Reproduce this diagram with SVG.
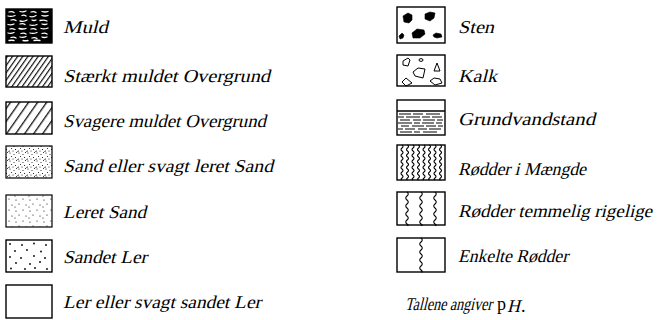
<svg xmlns="http://www.w3.org/2000/svg" width="661" height="320" viewBox="0 0 661 320">
<style>
.box{fill:none;stroke:#000;stroke-width:1.4}
text{font-family:'Liberation Serif','DejaVu Serif',serif;font-style:normal;font-size:18px;fill:#000}
.wave{fill:none;stroke:#000;stroke-width:1.1}
.blob{fill:#000;stroke:#000;stroke-width:0.6}
.kalk{fill:none;stroke:#000;stroke-width:1}
.dash{stroke:#000;stroke-width:1;fill:none}
.wd{stroke:#fff;stroke-width:1.3;fill:none;stroke-linecap:round}
</style>
<defs>
<pattern id="hatchDense" patternUnits="userSpaceOnUse" width="4.2" height="10" patternTransform="rotate(35)">
<line x1="0.6" y1="0" x2="0.6" y2="10" stroke="#000" stroke-width="1.1"/>
</pattern>
<pattern id="hatchSparse" patternUnits="userSpaceOnUse" width="7.4" height="10" patternTransform="rotate(35)">
<line x1="0.7" y1="0" x2="0.7" y2="10" stroke="#000" stroke-width="1.2"/>
</pattern>
<pattern id="dotsDense" patternUnits="userSpaceOnUse" width="9" height="8">
<circle cx="1" cy="1" r="0.55"/><circle cx="5" cy="2.5" r="0.5"/><circle cx="7.5" cy="0.5" r="0.5"/>
<circle cx="2.5" cy="4.5" r="0.5"/><circle cx="6.5" cy="5.5" r="0.55"/><circle cx="0.5" cy="7" r="0.5"/>
<circle cx="4" cy="7" r="0.5"/><circle cx="8.3" cy="7.5" r="0.45"/>
</pattern>
<pattern id="dotsMid" patternUnits="userSpaceOnUse" width="14" height="11">
<circle cx="2" cy="2" r="0.6"/><circle cx="9" cy="1" r="0.6"/><circle cx="5" cy="6" r="0.6"/>
<circle cx="12" cy="7" r="0.6"/><circle cx="1" cy="9" r="0.55"/>
</pattern>
</defs>

<g id="muld">
<rect x="6" y="9" width="46" height="34" fill="#000"/>
<path class="wd" d="M9,12 q3,-1 5,0.5 M20,11.5 q3,1 6,-0.5 M31,12 q3,-1 5,0.5 M42,11.5 q3,1 6,0" />
<path class="wd" d="M8,16 q3,1 7,-0.5 M22,15.5 q2,-1 4,0.5 M30,16.5 q3,1 6,-1 M42,15.5 q3,1 6,0" />
<path class="wd" d="M11,20 q3,-1 5,0.5 M20,21 q4,1 7,-1 M32,20 q2,1 4,0 M40,20.5 q4,-1 7,0.5" />
<path class="wd" d="M8,24.5 q3,1 6,-0.5 M20,24 q3,-1 5,0.5 M30,25 q3,1 7,-0.5 M42,24 q3,1 5,0" />
<path class="wd" d="M10,29 q2,-1 5,0.5 M19,28.5 q4,1 7,0 M31,29 q3,-1 5,0.5 M41,28.5 q3,1 7,-0.5" />
<path class="wd" d="M8,33 q3,1 6,-0.5 M21,33.5 q3,-1 5,0.5 M30,33 q3,1 7,-0.5 M42,33.5 q3,-1 5,0.5" />
<path class="wd" d="M11,37.5 q3,-1 5,0.5 M20,37 q3,1 6,-0.5 M32,38 q3,-1 5,0.5 M42,37 q2,1 5,0" />
<path class="wd" d="M9,40.5 q3,-0.5 5,0 M23,40.5 q2,0.5 5,0 M34,40.5 q3,-0.5 6,0" />
<rect class="box" x="6" y="9" width="46" height="34"/>
<text transform="translate(63,33) skewX(-14)" textLength="45" lengthAdjust="spacingAndGlyphs">Muld</text>
</g>

<g id="staerkt">
<rect x="6" y="56" width="46" height="31" fill="url(#hatchDense)" stroke="#000" stroke-width="1.4"/>
<text transform="translate(63,82) skewX(-14)" textLength="207" lengthAdjust="spacingAndGlyphs">Stærkt muldet Overgrund</text>
</g>

<g id="svagere">
<rect x="6" y="102" width="46" height="32" fill="url(#hatchSparse)" stroke="#000" stroke-width="1.4"/>
<text transform="translate(63,127) skewX(-14)" textLength="203" lengthAdjust="spacingAndGlyphs">Svagere muldet Overgrund</text>
</g>

<g id="sand">
<rect x="6" y="146" width="46" height="32" fill="url(#dotsDense)" stroke="#000" stroke-width="1.2"/>
<text transform="translate(63,172) skewX(-14)" textLength="210" lengthAdjust="spacingAndGlyphs">Sand eller svagt leret Sand</text>
</g>

<g id="leretsand">
<rect x="6" y="195" width="46" height="32" fill="url(#dotsMid)" stroke="#000" stroke-width="1.2"/>
<text transform="translate(63,218) skewX(-14)" textLength="83" lengthAdjust="spacingAndGlyphs">Leret Sand</text>
</g>

<g id="sandetler">
<rect class="box" x="6" y="240" width="46" height="32"/>
<g fill="#000">
<circle cx="10" cy="244" r="0.9"/><circle cx="22" cy="245" r="0.9"/><circle cx="34" cy="243.5" r="0.9"/><circle cx="46" cy="245" r="0.9"/>
<circle cx="15" cy="251" r="0.9"/><circle cx="27" cy="250" r="0.9"/><circle cx="41" cy="251.5" r="0.9"/>
<circle cx="10" cy="257" r="0.9"/><circle cx="21" cy="258" r="0.9"/><circle cx="34" cy="256" r="0.9"/><circle cx="45" cy="258" r="0.9"/>
<circle cx="16" cy="263" r="0.9"/><circle cx="30" cy="264" r="0.9"/><circle cx="40" cy="262" r="0.9"/>
<circle cx="11" cy="268.5" r="0.9"/><circle cx="25" cy="269" r="0.9"/><circle cx="35" cy="268" r="0.9"/><circle cx="47" cy="269" r="0.9"/>
</g>
<text transform="translate(63,263) skewX(-14)" textLength="84" lengthAdjust="spacingAndGlyphs">Sandet Ler</text>
</g>

<g id="lereller">
<rect class="box" x="6" y="285" width="46" height="33"/>
<text transform="translate(63,308) skewX(-14)" textLength="198" lengthAdjust="spacingAndGlyphs">Ler eller svagt sandet Ler</text>
</g>

<g id="sten">
<rect class="box" x="397" y="7" width="48" height="36"/>
<path class="blob" d="M403,16 l5,-3 l4,2 l0,5 l-3,3 l-5,-1 z"/>
<path class="blob" d="M425,14 l5,-2 l5,1 l-1,5 l-4,3 l-5,-2 z"/>
<path class="blob" d="M412,33 l5,-4 l7,1 l1,4 l-5,4 l-7,0 z"/>
<path class="blob" d="M399,36 l3,-3 l2,2 l-1,3 l-3,1 z"/>
<path class="blob" d="M433,35 l3,-2 l5,1 l1,3 l-5,1 l-3,-1 z"/>
<text transform="translate(458,33) skewX(-14)" textLength="36" lengthAdjust="spacingAndGlyphs">Sten</text>
</g>

<g id="kalk">
<rect class="box" x="397" y="55" width="48" height="31"/>
<path class="kalk" d="M403,61 l5,-3 l2,2 l-2,6 l-5,-1 z"/>
<ellipse class="kalk" cx="421" cy="60" rx="2" ry="1.4"/>
<path class="kalk" d="M437,63 l3,8 l-6,0 z"/>
<path class="kalk" d="M413,72 l5,-4 l7,1 l-2,9 l-8,-2 z"/>
<path class="kalk" d="M402,82 l4,-4 l6,5 l-6,3 z"/>
<path class="kalk" d="M430,81 l4,-3 l6,1 l2,4 l-7,2 z"/>
<text transform="translate(458,82) skewX(-14)" textLength="39" lengthAdjust="spacingAndGlyphs">Kalk</text>
</g>

<g id="grundvand">
<rect class="box" x="397" y="100" width="48" height="35"/>
<line x1="397" y1="111" x2="445" y2="111" stroke="#000" stroke-width="1.4"/>
<path class="dash" d="M399,114 h12 m2,0 h10 m3,0 h14 M398,117 h6 m2,0 h14 m2,0 h8 m2,0 h10 M400,120 h10 m3,0 h8 m2,0 h12 m2,0 h6 M398,123 h14 m2,0 h6 m2,0 h12 m2,0 h6 M401,126 h8 m3,0 h12 m2,0 h10 m2,0 h5 M398,129 h5 m2,0 h10 m3,0 h9 m2,0 h12 M400,132 h12 m2,0 h6 m3,0 h14"/>
<text transform="translate(458,125) skewX(-14)" textLength="137" lengthAdjust="spacingAndGlyphs">Grundvandstand</text>
</g>

<g id="roedderMaengde">
<rect class="box" x="397" y="145" width="48" height="35"/>
<g class="wave">
<path d="M402,145 q2,1.5 0,3 t0,3 t0,3 t0,3 t0,3 t0,3 t0,3 t0,3 t0,3 t0,3 t0,3 t0,2"/>
<path d="M407.5,145 q2,1.5 0,3 t0,3 t0,3 t0,3 t0,3 t0,3 t0,3 t0,3 t0,3 t0,3 t0,3 t0,2"/>
<path d="M413,145 q2,1.5 0,3 t0,3 t0,3 t0,3 t0,3 t0,3 t0,3 t0,3 t0,3 t0,3 t0,3 t0,2"/>
<path d="M418.5,145 q2,1.5 0,3 t0,3 t0,3 t0,3 t0,3 t0,3 t0,3 t0,3 t0,3 t0,3 t0,3 t0,2"/>
<path d="M424,145 q2,1.5 0,3 t0,3 t0,3 t0,3 t0,3 t0,3 t0,3 t0,3 t0,3 t0,3 t0,3 t0,2"/>
<path d="M429.5,145 q2,1.5 0,3 t0,3 t0,3 t0,3 t0,3 t0,3 t0,3 t0,3 t0,3 t0,3 t0,3 t0,2"/>
<path d="M435,145 q2,1.5 0,3 t0,3 t0,3 t0,3 t0,3 t0,3 t0,3 t0,3 t0,3 t0,3 t0,3 t0,2"/>
<path d="M440.5,145 q2,1.5 0,3 t0,3 t0,3 t0,3 t0,3 t0,3 t0,3 t0,3 t0,3 t0,3 t0,3 t0,2"/>
</g>
<text transform="translate(458,175) skewX(-14)" textLength="128" lengthAdjust="spacingAndGlyphs">Rødder i Mængde</text>
</g>

<g id="roedderTemmelig">
<rect class="box" x="397" y="192" width="48" height="33"/>
<g class="wave">
<path d="M407,192 q2.5,2 0,4 t0,4 t0,4 t0,4 t0,4 t0,4 t0,4 t0,4 t0,1"/>
<path d="M421,192 q2.5,2 0,4 t0,4 t0,4 t0,4 t0,4 t0,4 t0,4 t0,4 t0,1"/>
<path d="M435,192 q2.5,2 0,4 t0,4 t0,4 t0,4 t0,4 t0,4 t0,4 t0,4 t0,1"/>
</g>
<text transform="translate(458,217) skewX(-14)" textLength="194" lengthAdjust="spacingAndGlyphs">Rødder temmelig rigelige</text>
</g>

<g id="enkelte">
<rect class="box" x="397" y="238" width="48" height="34"/>
<path class="wave" d="M421,238 q2.5,2 0,4 t0,4 t0,4 t0,4 t0,4 t0,4 t0,4 t0,4 t0,2"/>
<text transform="translate(458,262) skewX(-14)" textLength="110" lengthAdjust="spacingAndGlyphs">Enkelte Rødder</text>
</g>

<g id="note">
<text transform="translate(405,310) skewX(-14)" textLength="87" lengthAdjust="spacingAndGlyphs">Tallene angiver</text>
<text x="497" y="310">p</text>
<text transform="translate(507,312) skewX(-14)" font-size="11">H</text>
<text x="521" y="312">.</text>
</g>

<g id="connectors"></g>
</svg>
